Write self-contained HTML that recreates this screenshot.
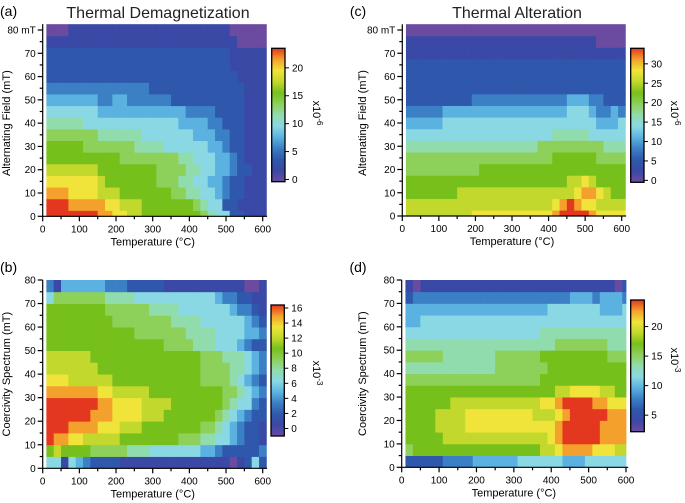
<!DOCTYPE html>
<html><head><meta charset="utf-8"><style>
html,body{margin:0;padding:0;background:#fff;}
svg{display:block;font-family:"Liberation Sans",sans-serif;}
</style></head><body>
<svg id="fig" width="685" height="503" viewBox="0 0 685 503" xmlns="http://www.w3.org/2000/svg">
<text x="0" y="16" font-size="14">(a)</text>
<text x="158" y="18" font-size="16" text-anchor="middle" fill="#222">Thermal Demagnetization</text>
<text x="358" y="16" font-size="14" text-anchor="middle">(c)</text>
<text x="517" y="18" font-size="16" text-anchor="middle" fill="#222">Thermal Alteration</text>
<text x="0" y="272" font-size="14">(b)</text>
<text x="358" y="272" font-size="14" text-anchor="middle">(d)</text>
</svg>
<script>
// ---- data: each string is one row (bottom -> top), one char per temperature step (hex level 0..c)
const temperatures = [20,40,60,80,100,120,140,160,180,200,220,240,260,280,300,320,340,360,380,400,420,440,460,480,500,520,540,560,580,600];
const fieldsAC = [0,5,10,15,20,25,30,35,40,45,50,55,60,65,70,75,80];
const spectrumBD = [2.5,7.5,12.5,17.5,22.5,27.5,32.5,37.5,42.5,47.5,52.5,57.5,62.5,67.5,72.5,77.5];
const rowsA = [
"cccccccbbaa9988888888765522111",
"cccbbbbbaa99988888887655221111",
"bbbaaaa99988888887766554322111",
"aaaaaaa98888888777665544322111",
"999999988888888777766554432211",
"888888888877777777665554432111",
"888887777777666655555544322111",
"777777766666655555554443322111",
"666665555555555555444433222111",
"555555544444444444433332222111",
"444444433443333332222222222111",
"333333333333332222222222222111",
"222222222222222222222222221111",
"222222222222222222222222211111",
"222222222222222222222222211111",
"111111111111111111111111110000",
"000111111111111111111111100000"];
const rowsB = [
"551543222211111111111111101252",
"898888777776665555555443222223",
"cbbaa9999988888888777665543221",
"cccbbbbaaa99988888888776543221",
"ccccccbbbaaaa99988888887654322",
"cccccccbbaaaa99998888888765532",
"bbbbbbbaa999998888888888776543",
"aaa999999888888888888777765432",
"999999988888888888888777766543",
"999999888888888888888777666543",
"888888888888888877776665554322",
"888888888888777777766665555443",
"888888888777777776666555555432",
"888888887777776666555555543321",
"577777776666555555555554332211",
"314444443332222211111111111001"];
const rowsC = [
"999999999aaaaaaaaaaabccccbaaaa",
"99999999999999999999abcbaa9999",
"88888889999999999999999abba988",
"888888888888888888888899a98888",
"777777777788888888888888888888",
"777777777777777777778888887777",
"666666666666666666777777777666",
"555555555555555555556666655555",
"444445555555555555555555554445",
"333334444444444444444455543343",
"222222222333333333333344433222",
"222222222222222222222222222222",
"222222222222222222222222222222",
"222222222222222222222222222222",
"111111111111111111111111111111",
"111111111111111111111111110000",
"000000000000000000000000000000"];
const rowsD = [
"222223333444444555555444555555",
"78888888888888888899abbbbaaa99",
"8888899999999999999abcccccbbbb",
"88889999aaaaaaaaaaaabcccccbbbb",
"88889999aaaaaaaaa999abcccccbbb",
"888888999999999999aabccccbbaaa",
"8888888888888888888899aaaa9988",
"777777777777777777888888888888",
"666666666666777777788888888888",
"777776666666777777888888888777",
"666666666666666666667777777666",
"555555555555555555666666666666",
"445555555555555555555555555555",
"444444444444444444455555554445",
"233333333333333333333344434443",
"101111111111111111111111111102"];
const colorbarTicksA = [0,5,10,15,20];
const colorbarTicksB = [0,2,4,6,8,10,12,14,16];
const colorbarTicksC = [0,5,10,15,20,25,30];
const colorbarTicksD = [5,10,15,20];
const xTicks = [0,100,200,300,400,500,600];
const yTicks = [0,10,20,30,40,50,60,70,80];

const stops = ["#6b4ba0","#3a49a5","#2f58ad","#3b7fc4","#5bb2e0","#8ad8e3","#90dcad","#8dd05a","#77c01c","#c2d82c","#f0e43a","#f4a02c","#e3381f"];
const NS = "http://www.w3.org/2000/svg";
const svg = document.getElementById('fig');
function mk(tag, attrs, parent){
  const e = document.createElementNS(NS, tag);
  for (const k in attrs) e.setAttribute(k, attrs[k]);
  (parent||svg).appendChild(e);
  return e;
}
function levels(rows){ return rows.map(r => { const a=[]; for(let i=0;i<30;i++){ a.push(parseInt(r[Math.min(i,r.length-1)],16)); } return a; }); }

function panel(p){
  const sx = t => p.x0 + (t/600)*(p.x600-p.x0);
  const sy = m => p.y0 + (m/80)*(p.y80-p.y0);
  const g = mk('g',{});
  
  
  const L = levels(p.rows);
  L.forEach((row, r) => {
    const c = p.centers[r];
    const m1 = Math.max(0, c - 2.5), m2 = Math.min(p.ymax, c + 2.5);
    row.forEach((lv, i) => {
      const t = temperatures[i];
      const t1 = t - 10, t2 = Math.min(p.tmax, t + 10);
      const rect = mk('rect',{x:sx(t1).toFixed(2), y:sy(m2).toFixed(2), width:(sx(t2)-sx(t1)+0.4).toFixed(2), height:(sy(m1)-sy(m2)+0.4).toFixed(2), fill:stops[lv]}, g);
      
      
    });
  });
  const ax = mk('g',{stroke:'#000','stroke-width':1.2});
  
  
  mk('line',{x1:p.x0,y1:p.y0,x2:sx(p.tmax===600?606:612),y2:p.y0},ax);
  mk('line',{x1:p.x0,y1:p.y0,x2:p.x0,y2:sy(p.ymax)},ax);
  for(let t=0;t<=600;t+=50){ const len = t%100===0?5:3; mk('line',{x1:sx(t),y1:p.y0,x2:sx(t),y2:p.y0+len},ax); }
  for(let m=0;m<=80;m+=5){ const len = m%10===0?5:3; mk('line',{x1:p.x0,y1:sy(m),x2:p.x0-len,y2:sy(m)},ax); }
  xTicks.forEach(t => {
    const tx = mk('text',{x:sx(t),y:p.y0+16,'font-size':10,'text-anchor':'middle'});
    tx.textContent = t;
    
    
  });
  yTicks.forEach(m => {
    const tx = mk('text',{x:p.x0-7,y:sy(m)+3.5,'font-size':10,'text-anchor':'end'});
    tx.textContent = (m===80 && p.mt) ? '80 mT' : m;
    
    
  });
  const xl = mk('text',{x:(p.x0+p.x600)/2,y:p.y0+29,'font-size':11,'text-anchor':'middle'});
  xl.textContent = 'Temperature (°C)';
  
  
  const yl = mk('text',{x:0,y:0,'font-size':11,'text-anchor':'middle',transform:`translate(${p.ylx},${(p.y0+p.y80)/2}) rotate(-90)`});
  yl.textContent = p.ylabel;
  
  
  const cb = p.cb;
  const gid = 'grad-'+p.name;
  const defs = mk('defs',{});
  const lg = mk('linearGradient',{id:gid,x1:0,y1:1,x2:0,y2:0},defs);
  stops.forEach((s,i)=>{ mk('stop',{offset:(i/(stops.length-1)).toFixed(3),'stop-color':s},lg); });
  const bar = mk('rect',{x:cb.x,y:cb.top,width:cb.w,height:cb.bot-cb.top,fill:`url(#${gid})`,stroke:'#000','stroke-width':1.3});
  
  
  const cy = v => cb.bot + (v-cb.min)/(cb.max-cb.min)*(cb.top-cb.bot);
  cb.ticks.forEach(v => {
    mk('line',{x1:cb.x+cb.w,y1:cy(v),x2:cb.x+cb.w+4,y2:cy(v),stroke:'#000','stroke-width':1});
    const tx = mk('text',{x:cb.x+cb.w+7,y:cy(v)+3.5,'font-size':10});
    tx.textContent = v;
    
    
  });
  const ul = mk('text',{x:0,y:0,'font-size':11,transform:`translate(${cb.lx},${cb.ly}) rotate(90)`,'text-anchor':'middle'});
  ul.innerHTML = 'x10<tspan dy="-4" font-size="8">'+cb.exp+'</tspan>';
  
  
}

panel({name:'panel-a',rows:rowsA,centers:fieldsAC,x0:42.7,x600:262.7,y0:216.3,y80:30,ymax:82.5,tmax:610,mt:true,ylx:10,ylabel:'Alternating Field (mT)',
  cb:{x:271.7,w:13.3,top:48.3,bot:181.7,min:-0.4,max:23.5,ticks:colorbarTicksA,exp:'-6',lx:313,ly:113}});
panel({name:'panel-b',rows:rowsB,centers:spectrumBD,x0:42.7,x600:262.7,y0:468.3,y80:280,ymax:80,tmax:610,mt:false,ylx:10,ylabel:'Coercivity Spectrum (mT)',
  cb:{x:271,w:13.3,top:305,bot:436,min:-1,max:16.4,ticks:colorbarTicksB,exp:'-3',lx:313,ly:373}});
panel({name:'panel-c',rows:rowsC,centers:fieldsAC,x0:402.3,x600:621.7,y0:216,y80:30,ymax:82.5,tmax:612,mt:true,ylx:366,ylabel:'Alternating Field (mT)',
  cb:{x:630.7,w:13.3,top:48.3,bot:182.3,min:-0.5,max:34,ticks:colorbarTicksC,exp:'-6',lx:671,ly:113}});
panel({name:'panel-d',rows:rowsD,centers:spectrumBD,x0:401.7,x600:626,y0:467.3,y80:280,ymax:80,tmax:600,mt:false,ylx:366,ylabel:'Coercivity Spectrum (mT)',
  cb:{x:630.7,w:13.6,top:300,bot:431.7,min:2.2,max:24.5,ticks:colorbarTicksD,exp:'-3',lx:671,ly:360}});
</script>
</body></html>
